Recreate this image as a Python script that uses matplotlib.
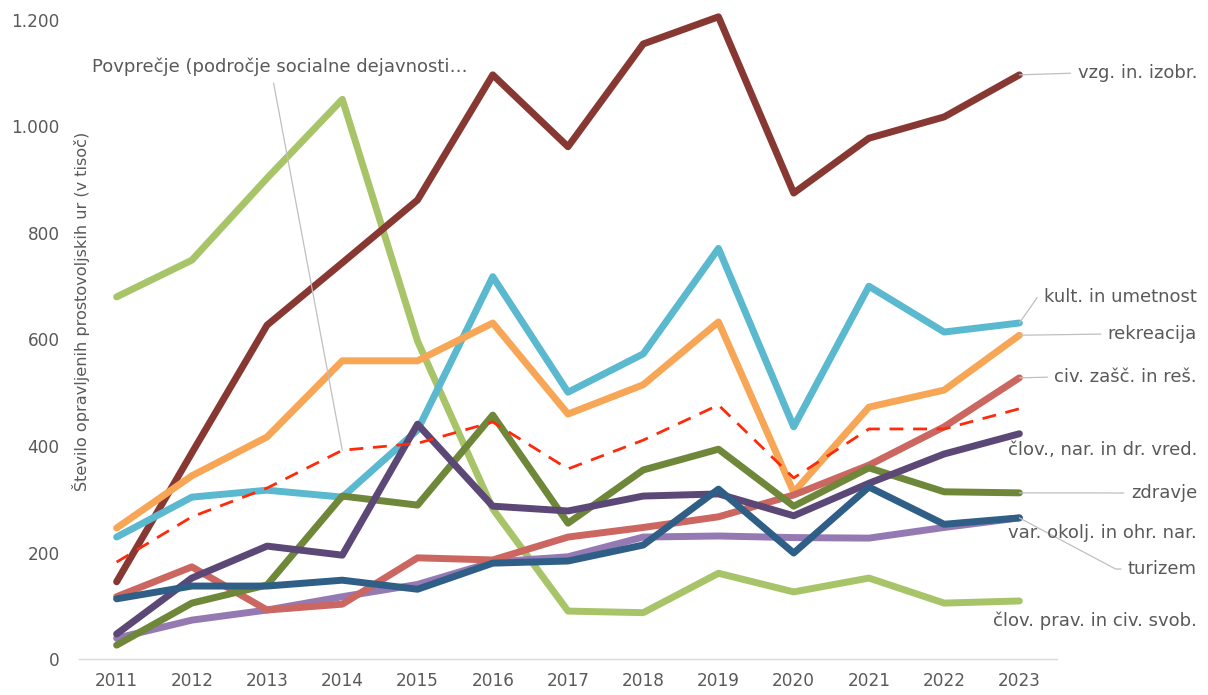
#!/usr/bin/env python3
"""
Volunteer hours by field of activity, 2011-2023
Line chart with end-of-line labels
"""

import matplotlib
matplotlib.use('Agg')
import matplotlib.pyplot as plt
from matplotlib.ticker import FuncFormatter, MultipleLocator

# the reference text is a wide sans, DejaVu matches its width best
plt.rcParams['font.family'] = ['DejaVu Sans']

# Data (thousand hours)
years = [2011, 2012, 2013, 2014, 2015, 2016, 2017, 2018, 2019, 2020, 2021, 2022, 2023]

clov_prav = [680, 749, 903, 1051, 597, 282, 90, 87, 161, 126, 152, 105, 109]
vzg_izobr = [145, 387, 627, 744, 862, 1097, 962, 1155, 1206, 875, 978, 1018, 1097]
kult_umet = [229, 304, 317, 304, 430, 718, 501, 573, 771, 436, 700, 614, 631]
rekreacija = [246, 344, 417, 560, 560, 631, 460, 515, 633, 313, 473, 505, 608]
turizem = [39, 73, 92, 117, 140, 182, 192, 229, 231, 228, 227, 247, 265]
civ_zasc = [117, 173, 92, 103, 190, 186, 229, 247, 267, 308, 364, 436, 528]
zdravje = [26, 105, 139, 306, 289, 458, 255, 355, 394, 287, 359, 314, 312]
clov_nar = [47, 152, 212, 195, 441, 287, 278, 306, 310, 269, 330, 385, 423]
var_okolj = [113, 137, 137, 148, 131, 180, 184, 214, 319, 199, 323, 253, 265]
povprecje = [182, 267, 321, 392, 405, 445, 357, 411, 477, 340, 432, 432, 470]

series_names = ['člov. prav. in civ. svob.', 'vzg. in. izobr.', 'kult. in umetnost',
                'rekreacija', 'turizem', 'civ. zašč. in reš.', 'zdravje',
                'člov., nar. in dr. vred.', 'var. okolj. in ohr. nar.']
series_values = [clov_prav, vzg_izobr, kult_umet, rekreacija, turizem,
                 civ_zasc, zdravje, clov_nar, var_okolj]
series_colors = ['#A8C468', '#883832', '#5AB8CF', '#F7A656', '#9479B3',
                 '#CC6660', '#6E8738', '#5C4876', '#2F5F87']

avg_label = 'Povprečje (področje socialne dejavnosti…'
y_label = 'Število opravljenih prostovoljskih ur (v tisoč)'

# Label layout: (text y from top in px, leader style)
label_layout = {
    'vzg. in. izobr.': (73, 'straight'),
    'kult. in umetnost': (297, 'kult'),
    'rekreacija': (334, 'straight'),
    'civ. zašč. in reš.': (377, 'straight'),
    'člov., nar. in dr. vred.': (450, None),
    'zdravje': (493, 'straight'),
    'var. okolj. in ohr. nar.': (533, None),
    'turizem': (569, 'turizem'),
    'člov. prav. in civ. svob.': (621, None),
}

W, H = 1208, 695
TEXT_COLOR = '#595959'
LEADER_COLOR = '#BFBFBF'
FS_TICK = 12.2
FS_LABEL = 13

fig = plt.figure(figsize=(W / 100, H / 100), dpi=100)
ax = fig.add_axes([79 / W, 36 / H, (1057 - 79) / W, (659 - 20) / H])

for name, vals, col in zip(series_names, series_values, series_colors):
    ax.plot(years, vals, color=col, lw=5, solid_joinstyle='round',
            solid_capstyle='round', clip_on=False, zorder=2)

# average line (dashed)
ax.plot(years, povprecje, color='#FF2A0A', lw=2, dashes=(5, 3.5), zorder=3)

ax.set_xlim(2010.5, 2023.5)
ax.set_ylim(0, 1200)
ax.set_xticks(years)
ax.yaxis.set_major_locator(MultipleLocator(200))
ax.yaxis.set_major_formatter(FuncFormatter(lambda v, p: f'{int(v):,}'.replace(',', '.')))
ax.tick_params(axis='both', length=0, labelsize=FS_TICK, labelcolor=TEXT_COLOR)
ax.tick_params(axis='y', pad=14)
ax.tick_params(axis='x', pad=9)

for s in ['top', 'right', 'left']:
    ax.spines[s].set_visible(False)
ax.spines['bottom'].set_color('#D9D9D9')
ax.spines['bottom'].set_linewidth(1)

fig.text(81 / W, 1 - 311 / H, y_label, rotation=90, ha='center', va='center',
         fontsize=11.6, color=TEXT_COLOR)

# end-of-line labels
for name, vals in zip(series_names, series_values):
    py, style = label_layout[name]
    xy = (years[-1], vals[-1])
    xytext = (1197, H - py)
    arrow = None
    if style == 'straight':
        arrow = dict(arrowstyle='-', color=LEADER_COLOR, lw=0.9,
                     shrinkA=3, shrinkB=0, relpos=(0, 0.5))
    elif style == 'kult':
        arrow = dict(arrowstyle='-', color=LEADER_COLOR, lw=0.9, shrinkA=3, shrinkB=0,
                     relpos=(0, 0.5), connectionstyle='angle,angleA=0,angleB=55,rad=0')
    elif style == 'turizem':
        arrow = dict(arrowstyle='-', color=LEADER_COLOR, lw=0.9, shrinkA=3, shrinkB=0,
                     relpos=(0, 0.5), connectionstyle='angle,angleA=0,angleB=-28,rad=0')
    ax.annotate(name, xy=xy, xycoords='data', xytext=xytext,
                textcoords='figure pixels', ha='right', va='center',
                fontsize=FS_LABEL, color=TEXT_COLOR, arrowprops=arrow,
                annotation_clip=False, zorder=5)

# average label with leader to 2014 point
ax.annotate(avg_label, xy=(years[3], povprecje[3]), xycoords='data',
            xytext=(92, H - 67), textcoords='figure pixels', ha='left', va='center',
            fontsize=FS_LABEL, color=TEXT_COLOR,
            arrowprops=dict(arrowstyle='-', color=LEADER_COLOR, lw=0.9,
                            shrinkA=3, shrinkB=0, relpos=(0.48, 0)),
            zorder=5)

fig.savefig('out.png', dpi=100)
print('saved out.png')
